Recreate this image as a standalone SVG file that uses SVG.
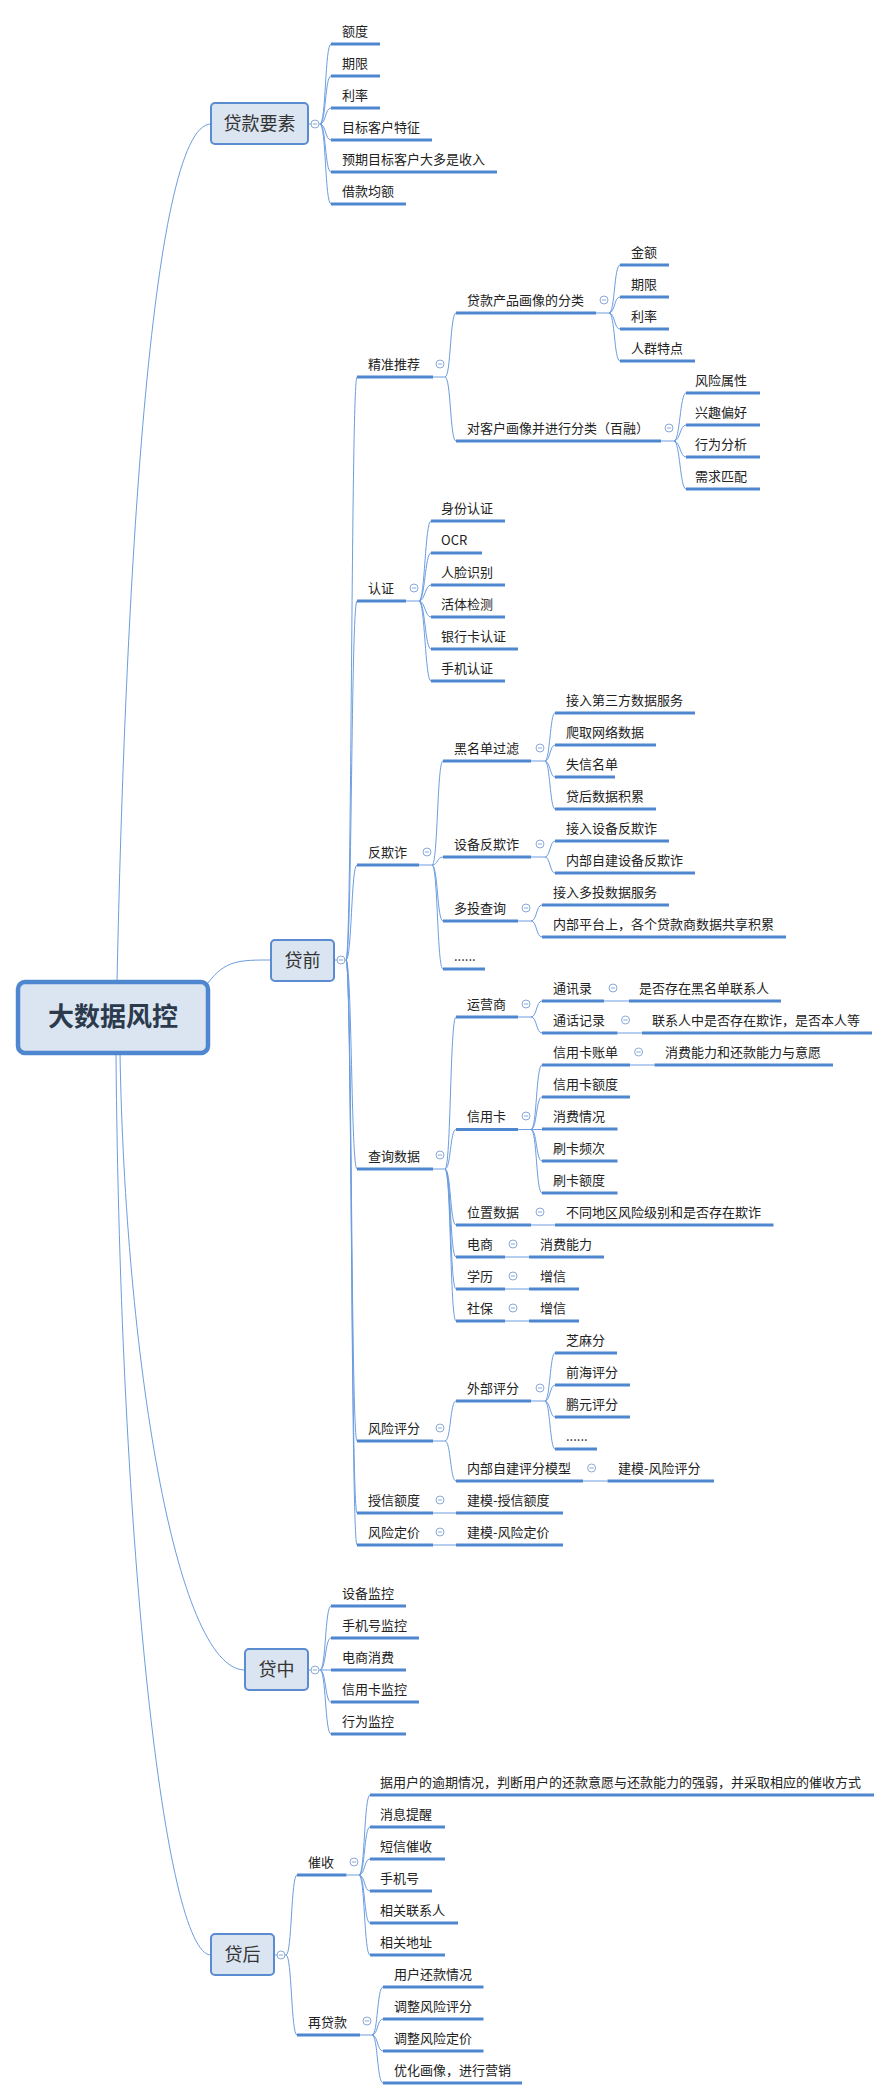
<svg xmlns="http://www.w3.org/2000/svg" width="892" height="2100" viewBox="0 0 892 2100">
<style>
.t{font-family:"Noto Sans CJK SC","Liberation Sans",sans-serif;font-size:13px;fill:#222}
.bt{font-family:"Noto Sans CJK SC","Liberation Sans",sans-serif;font-size:18px;fill:#333;text-anchor:middle}
.rt{font-family:"Noto Sans CJK SC","Liberation Sans",sans-serif;font-size:26px;font-weight:bold;fill:#2b3a4d;text-anchor:middle}
.u{stroke:#4f86d0;stroke-width:3;fill:none}
.c path{stroke:#6c9de0;stroke-width:1;fill:none}
.b{fill:#dbe5f1;stroke:#5b8bd0;stroke-width:2}
.r{fill:#dbe5f1;stroke:#4f86d0;stroke-width:4.5}
</style>
<defs>
<g id="tg"><circle r="4" fill="#fff" stroke="#8aa9d6" stroke-width="1"/><line x1="-2.2" x2="2.2" stroke="#8aa9d6" stroke-width="1"/></g>
</defs>
<g class="c" id="connectors">
<path d="M117,982 C125,600 150,124 211,124"/>
<path d="M208,983 C225,960 240,960 271,960"/>
<path d="M120,1053 C125,1350 175,1670 245,1670"/>
<path d="M116,1053 C120,1550 165,1955 211,1955"/>
<!-- 贷款要素 -->
<path d="M308,124 H320 C326,124 325,44 331,44"/><path d="M320,124 C326,124 325,76 331,76"/><path d="M320,124 C326,124 325,108 331,108"/><path d="M320,124 C326,124 325,140 331,140"/><path d="M320,124 C326,124 325,172 331,172"/><path d="M320,124 C326,124 325,204 331,204"/>
<!-- 贷前 -->
<path d="M334,960 H346 C352,960 351,377 357,377"/><path d="M346,960 C352,960 351,601 357,601"/><path d="M346,960 C352,960 351,865 357,865"/><path d="M346,960 C352,960 351,1169 357,1169"/><path d="M346,960 C352,960 351,1441 357,1441"/><path d="M346,960 C352,960 351,1513 357,1513"/><path d="M346,960 C352,960 351,1545 357,1545"/>
<!-- 精准推荐 -->
<path d="M433,377 H445 C451,377 450,313 456,313"/><path d="M445,377 C451,377 450,441 456,441"/>
<path d="M596,313 H609 C615,313 614,265 620,265"/><path d="M609,313 C615,313 614,297 620,297"/><path d="M609,313 C615,313 614,329 620,329"/><path d="M609,313 C615,313 614,361 620,361"/>
<path d="M661,441 H674 C680,441 680,393 686,393"/><path d="M674,441 C680,441 680,425 686,425"/><path d="M674,441 C680,441 680,457 686,457"/><path d="M674,441 C680,441 680,489 686,489"/>
<!-- 认证 -->
<path d="M406,601 H419 C425,601 425,521 431,521"/><path d="M419,601 C425,601 425,553 431,553"/><path d="M419,601 C425,601 425,585 431,585"/><path d="M419,601 C425,601 425,617 431,617"/><path d="M419,601 C425,601 425,649 431,649"/><path d="M419,601 C425,601 425,681 431,681"/>
<!-- 反欺诈 -->
<path d="M419,865 H432 C438,865 437,761 443,761"/><path d="M432,865 C438,865 437,857 443,857"/><path d="M432,865 C438,865 437,921 443,921"/><path d="M432,865 C438,865 437,969 443,969"/>
<path d="M531,761 H545 C550,761 550,713 555,713"/><path d="M545,761 C550,761 550,745 555,745"/><path d="M545,761 C550,761 550,777 555,777"/><path d="M545,761 C550,761 550,809 555,809"/>
<path d="M531,857 H545 C550,857 550,841 555,841"/><path d="M545,857 C550,857 550,873 555,873"/>
<path d="M518,921 H531 C537,921 536,905 542,905"/><path d="M531,921 C537,921 536,937 542,937"/>
<!-- 查询数据 -->
<path d="M433,1169 H445 C451,1169 450,1017 456,1017"/><path d="M445,1169 C451,1169 450,1129.5 456,1129.5"/><path d="M445,1169 C451,1169 450,1225 456,1225"/><path d="M445,1169 C451,1169 450,1257 456,1257"/><path d="M445,1169 C451,1169 450,1289 456,1289"/><path d="M445,1169 C451,1169 450,1321 456,1321"/>
<path d="M518,1017 H531 C537,1017 536,1001 542,1001"/><path d="M531,1017 C537,1017 536,1033 542,1033"/>
<path d="M604,1001 H629"/><path d="M617.5,1033 H642"/>
<path d="M518,1129.5 H531 C537,1129.5 536,1065 542,1065"/><path d="M531,1129.5 C537,1129.5 536,1097 542,1097"/><path d="M531,1129.5 H542"/><path d="M531,1129.5 C537,1129.5 536,1161 542,1161"/><path d="M531,1129.5 C537,1129.5 536,1193 542,1193"/>
<path d="M630,1065 H654.5"/><path d="M531,1225 H555"/><path d="M505,1257 H529"/><path d="M505,1289 H529"/><path d="M505,1321 H529"/>
<!-- 风险评分 -->
<path d="M433,1441 H445 C451,1441 450,1401 456,1401"/><path d="M445,1441 C451,1441 450,1481 456,1481"/>
<path d="M531,1401 H545 C550,1401 550,1353 555,1353"/><path d="M545,1401 C550,1401 550,1385 555,1385"/><path d="M545,1401 C550,1401 550,1417 555,1417"/><path d="M545,1401 C550,1401 550,1449 555,1449"/>
<path d="M583,1481 H607.5"/><path d="M433,1513 H456"/><path d="M433,1545 H456"/>
<!-- 贷中 -->
<path d="M308,1670 H320 C326,1670 325,1606 331,1606"/><path d="M320,1670 C326,1670 325,1638 331,1638"/><path d="M320,1670 H331"/><path d="M320,1670 C326,1670 325,1702 331,1702"/><path d="M320,1670 C326,1670 325,1734 331,1734"/>
<!-- 贷后 -->
<path d="M274,1955 H286 C292,1955 291,1875 297,1875"/><path d="M286,1955 C292,1955 291,2035 297,2035"/>
<path d="M346.5,1875 H359 C365,1875 364,1795 370,1795"/><path d="M359,1875 C365,1875 364,1827 370,1827"/><path d="M359,1875 C365,1875 364,1859 370,1859"/><path d="M359,1875 C365,1875 364,1891 370,1891"/><path d="M359,1875 C365,1875 364,1923 370,1923"/><path d="M359,1875 C365,1875 364,1955 370,1955"/>
<path d="M360,2035 H372 C378,2035 377,1987 383,1987"/><path d="M372,2035 C378,2035 377,2019 383,2019"/><path d="M372,2035 C378,2035 377,2051 383,2051"/><path d="M372,2035 C378,2035 377,2083 383,2083"/>
</g>

<g id="root"><rect class="r" x="18" y="982" width="190" height="71" rx="7"/><text class="rt" x="113" y="1026">大数据风控</text></g>
<g id="n-daikuanyaosu"><rect class="b" x="211" y="103" width="97" height="41" rx="4"/><text class="bt" x="259.5" y="130">贷款要素</text><use href="#tg" x="315" y="124"/></g>
<g id="n-daiqian"><rect class="b" x="271" y="940" width="63" height="41" rx="4"/><text class="bt" x="302.5" y="967">贷前</text><use href="#tg" x="341" y="960"/></g>
<g id="n-daizhong"><rect class="b" x="245" y="1649" width="63" height="41" rx="4"/><text class="bt" x="276.5" y="1676">贷中</text><use href="#tg" x="315" y="1670"/></g>
<g id="n-daihou"><rect class="b" x="211" y="1934" width="63" height="41" rx="4"/><text class="bt" x="242.5" y="1961">贷后</text><use href="#tg" x="281" y="1955"/></g>

<g id="leaves-yaosu">
<g id="n1"><text class="t" x="342" y="36">额度</text><line class="u" x1="331" x2="380" y1="44" y2="44"/></g>
<g id="n2"><text class="t" x="342" y="68">期限</text><line class="u" x1="331" x2="380" y1="76" y2="76"/></g>
<g id="n3"><text class="t" x="342" y="100">利率</text><line class="u" x1="331" x2="380" y1="108" y2="108"/></g>
<g id="n4"><text class="t" x="342" y="132">目标客户特征</text><line class="u" x1="331" x2="432" y1="140" y2="140"/></g>
<g id="n5"><text class="t" x="342" y="164">预期目标客户大多是收入</text><line class="u" x1="331" x2="497" y1="172" y2="172"/></g>
<g id="n6"><text class="t" x="342" y="196">借款均额</text><line class="u" x1="331" x2="406" y1="204" y2="204"/></g>
</g>

<g id="n-jztj"><text class="t" x="368" y="369">精准推荐</text><line class="u" x1="357" x2="433" y1="377" y2="377"/><use href="#tg" x="440" y="364"/></g>
<g id="n-cpfl"><text class="t" x="467" y="305">贷款产品画像的分类</text><line class="u" x1="456" x2="596" y1="313" y2="313"/><use href="#tg" x="604" y="300"/></g>
<g id="n-jine"><text class="t" x="631" y="257">金额</text><line class="u" x1="620" x2="669" y1="265" y2="265"/></g>
<g id="n-qixian2"><text class="t" x="631" y="289">期限</text><line class="u" x1="620" x2="669" y1="297" y2="297"/></g>
<g id="n-lilv2"><text class="t" x="631" y="321">利率</text><line class="u" x1="620" x2="669" y1="329" y2="329"/></g>
<g id="n-rqtd"><text class="t" x="631" y="353">人群特点</text><line class="u" x1="620" x2="695" y1="361" y2="361"/></g>
<g id="n-khhx"><text class="t" x="467" y="433">对客户画像并进行分类（百融）</text><line class="u" x1="456" x2="661" y1="441" y2="441"/><use href="#tg" x="669" y="428"/></g>
<g id="n-fxsx"><text class="t" x="695" y="385">风险属性</text><line class="u" x1="686" x2="760" y1="393" y2="393"/></g>
<g id="n-xqph"><text class="t" x="695" y="417">兴趣偏好</text><line class="u" x1="686" x2="760" y1="425" y2="425"/></g>
<g id="n-xwfx"><text class="t" x="695" y="449">行为分析</text><line class="u" x1="686" x2="760" y1="457" y2="457"/></g>
<g id="n-xqpp"><text class="t" x="695" y="481">需求匹配</text><line class="u" x1="686" x2="760" y1="489" y2="489"/></g>

<g id="n-renzheng"><text class="t" x="368" y="593">认证</text><line class="u" x1="357" x2="406" y1="601" y2="601"/><use href="#tg" x="414" y="588"/></g>
<g id="n-sfrz"><text class="t" x="441" y="513">身份认证</text><line class="u" x1="431" x2="505" y1="521" y2="521"/></g>
<g id="n-ocr"><text class="t" x="441" y="545">OCR</text><line class="u" x1="431" x2="482" y1="553" y2="553"/></g>
<g id="n-rlsb"><text class="t" x="441" y="577">人脸识别</text><line class="u" x1="431" x2="505" y1="585" y2="585"/></g>
<g id="n-htjc"><text class="t" x="441" y="609">活体检测</text><line class="u" x1="431" x2="505" y1="617" y2="617"/></g>
<g id="n-yhk"><text class="t" x="441" y="641">银行卡认证</text><line class="u" x1="431" x2="518" y1="649" y2="649"/></g>
<g id="n-sjrz"><text class="t" x="441" y="673">手机认证</text><line class="u" x1="431" x2="505" y1="681" y2="681"/></g>

<g id="n-fqz"><text class="t" x="368" y="857">反欺诈</text><line class="u" x1="357" x2="419" y1="865" y2="865"/><use href="#tg" x="427" y="852"/></g>
<g id="n-hmd"><text class="t" x="454" y="753">黑名单过滤</text><line class="u" x1="443" x2="531" y1="761" y2="761"/><use href="#tg" x="540" y="748"/></g>
<g id="n-dsf"><text class="t" x="566" y="705">接入第三方数据服务</text><line class="u" x1="555" x2="695" y1="713" y2="713"/></g>
<g id="n-pqwl"><text class="t" x="566" y="737">爬取网络数据</text><line class="u" x1="555" x2="656" y1="745" y2="745"/></g>
<g id="n-sxmd"><text class="t" x="566" y="769">失信名单</text><line class="u" x1="555" x2="615" y1="777" y2="777"/></g>
<g id="n-dhsj"><text class="t" x="566" y="801">贷后数据积累</text><line class="u" x1="555" x2="656" y1="809" y2="809"/></g>
<g id="n-sbfqz"><text class="t" x="454" y="849">设备反欺诈</text><line class="u" x1="443" x2="531" y1="857" y2="857"/><use href="#tg" x="540" y="844"/></g>
<g id="n-jrsb"><text class="t" x="566" y="833">接入设备反欺诈</text><line class="u" x1="555" x2="669" y1="841" y2="841"/></g>
<g id="n-nbzj"><text class="t" x="566" y="865">内部自建设备反欺诈</text><line class="u" x1="555" x2="695" y1="873" y2="873"/></g>
<g id="n-dtcx"><text class="t" x="454" y="913">多投查询</text><line class="u" x1="443" x2="518" y1="921" y2="921"/><use href="#tg" x="526" y="908"/></g>
<g id="n-jrdt"><text class="t" x="553" y="897">接入多投数据服务</text><line class="u" x1="542" x2="669" y1="905" y2="905"/></g>
<g id="n-nbpt"><text class="t" x="553" y="929">内部平台上，各个贷款商数据共享积累</text><line class="u" x1="542" x2="786" y1="937" y2="937"/></g>
<g id="n-dots1"><text class="t" x="454" y="961">......</text><line class="u" x1="443" x2="485" y1="969" y2="969"/></g>

<g id="n-cxsj"><text class="t" x="368" y="1161">查询数据</text><line class="u" x1="357" x2="433" y1="1169" y2="1169"/><use href="#tg" x="440" y="1155"/></g>
<g id="n-yys"><text class="t" x="467" y="1009">运营商</text><line class="u" x1="456" x2="518" y1="1017" y2="1017"/><use href="#tg" x="526" y="1004"/></g>
<g id="n-txl"><text class="t" x="553" y="993">通讯录</text><line class="u" x1="542" x2="604" y1="1001" y2="1001"/><use href="#tg" x="613" y="988"/></g>
<g id="n-hmdlxr"><text class="t" x="639" y="993">是否存在黑名单联系人</text><line class="u" x1="629" x2="781" y1="1001" y2="1001"/></g>
<g id="n-thjl"><text class="t" x="553" y="1025">通话记录</text><line class="u" x1="542" x2="617.5" y1="1033" y2="1033"/><use href="#tg" x="625.5" y="1020"/></g>
<g id="n-lxrqz"><text class="t" x="652" y="1025">联系人中是否存在欺诈，是否本人等</text><line class="u" x1="642" x2="872" y1="1033" y2="1033"/></g>
<g id="n-xyk"><text class="t" x="467" y="1121">信用卡</text><line class="u" x1="456" x2="518" y1="1129.5" y2="1129.5"/><use href="#tg" x="526" y="1116"/></g>
<g id="n-xykzd"><text class="t" x="553" y="1057">信用卡账单</text><line class="u" x1="542" x2="630" y1="1065" y2="1065"/><use href="#tg" x="638.6" y="1052"/></g>
<g id="n-xfnl"><text class="t" x="665" y="1057">消费能力和还款能力与意愿</text><line class="u" x1="654.5" x2="833" y1="1065" y2="1065"/></g>
<g id="n-xyked"><text class="t" x="553" y="1089">信用卡额度</text><line class="u" x1="542" x2="630" y1="1097" y2="1097"/></g>
<g id="n-xfqk"><text class="t" x="553" y="1121">消费情况</text><line class="u" x1="542" x2="617.5" y1="1129" y2="1129"/></g>
<g id="n-skpc"><text class="t" x="553" y="1153">刷卡频次</text><line class="u" x1="542" x2="617.5" y1="1161" y2="1161"/></g>
<g id="n-sked"><text class="t" x="553" y="1185">刷卡额度</text><line class="u" x1="542" x2="617.5" y1="1193" y2="1193"/></g>
<g id="n-wzsj"><text class="t" x="467" y="1217">位置数据</text><line class="u" x1="456" x2="531" y1="1225" y2="1225"/><use href="#tg" x="540" y="1212"/></g>
<g id="n-btdq"><text class="t" x="566" y="1217">不同地区风险级别和是否存在欺诈</text><line class="u" x1="555" x2="773.5" y1="1225" y2="1225"/></g>
<g id="n-ds"><text class="t" x="467" y="1249">电商</text><line class="u" x1="456" x2="505" y1="1257" y2="1257"/><use href="#tg" x="513" y="1244"/></g>
<g id="n-xfnl2"><text class="t" x="540" y="1249">消费能力</text><line class="u" x1="529" x2="604" y1="1257" y2="1257"/></g>
<g id="n-xl"><text class="t" x="467" y="1281">学历</text><line class="u" x1="456" x2="505" y1="1289" y2="1289"/><use href="#tg" x="513" y="1276"/></g>
<g id="n-zx1"><text class="t" x="540" y="1281">增信</text><line class="u" x1="529" x2="579" y1="1289" y2="1289"/></g>
<g id="n-sb"><text class="t" x="467" y="1313">社保</text><line class="u" x1="456" x2="505" y1="1321" y2="1321"/><use href="#tg" x="513" y="1308"/></g>
<g id="n-zx2"><text class="t" x="540" y="1313">增信</text><line class="u" x1="529" x2="579" y1="1321" y2="1321"/></g>

<g id="n-fxpf"><text class="t" x="368" y="1433">风险评分</text><line class="u" x1="357" x2="433" y1="1441" y2="1441"/><use href="#tg" x="440" y="1428"/></g>
<g id="n-wbpf"><text class="t" x="467" y="1393">外部评分</text><line class="u" x1="456" x2="531" y1="1401" y2="1401"/><use href="#tg" x="540" y="1388"/></g>
<g id="n-zmf"><text class="t" x="566" y="1345">芝麻分</text><line class="u" x1="555" x2="617" y1="1353" y2="1353"/></g>
<g id="n-qhpf"><text class="t" x="566" y="1377">前海评分</text><line class="u" x1="555" x2="630" y1="1385" y2="1385"/></g>
<g id="n-pypf"><text class="t" x="566" y="1409">鹏元评分</text><line class="u" x1="555" x2="630" y1="1417" y2="1417"/></g>
<g id="n-dots2"><text class="t" x="566" y="1441">......</text><line class="u" x1="555" x2="597" y1="1449" y2="1449"/></g>
<g id="n-nbpfmx"><text class="t" x="467" y="1473">内部自建评分模型</text><line class="u" x1="456" x2="583" y1="1481" y2="1481"/><use href="#tg" x="591.6" y="1468"/></g>
<g id="n-jmfxpf"><text class="t" x="618" y="1473">建模-风险评分</text><line class="u" x1="607.5" x2="714" y1="1481" y2="1481"/></g>
<g id="n-sxed"><text class="t" x="368" y="1505">授信额度</text><line class="u" x1="357" x2="433" y1="1513" y2="1513"/><use href="#tg" x="440" y="1500"/></g>
<g id="n-jmsxed"><text class="t" x="467" y="1505">建模-授信额度</text><line class="u" x1="456" x2="563" y1="1513" y2="1513"/></g>
<g id="n-fxdj"><text class="t" x="368" y="1537">风险定价</text><line class="u" x1="357" x2="433" y1="1545" y2="1545"/><use href="#tg" x="440" y="1532"/></g>
<g id="n-jmfxdj"><text class="t" x="467" y="1537">建模-风险定价</text><line class="u" x1="456" x2="563" y1="1545" y2="1545"/></g>

<g id="n-sbjk"><text class="t" x="342" y="1598">设备监控</text><line class="u" x1="331" x2="406" y1="1606" y2="1606"/></g>
<g id="n-sjhjk"><text class="t" x="342" y="1630">手机号监控</text><line class="u" x1="331" x2="419" y1="1638" y2="1638"/></g>
<g id="n-dsxf"><text class="t" x="342" y="1662">电商消费</text><line class="u" x1="331" x2="406" y1="1670" y2="1670"/></g>
<g id="n-xykjk"><text class="t" x="342" y="1694">信用卡监控</text><line class="u" x1="331" x2="419" y1="1702" y2="1702"/></g>
<g id="n-xwjk"><text class="t" x="342" y="1726">行为监控</text><line class="u" x1="331" x2="406" y1="1734" y2="1734"/></g>

<g id="n-cs"><text class="t" x="308" y="1867">催收</text><line class="u" x1="297" x2="346.5" y1="1875" y2="1875"/><use href="#tg" x="354" y="1862"/></g>
<g id="n-cs1"><text class="t" x="380" y="1787">据用户的逾期情况，判断用户的还款意愿与还款能力的强弱，并采取相应的催收方式</text><line class="u" x1="370" x2="874" y1="1795" y2="1795"/></g>
<g id="n-xxtx"><text class="t" x="380" y="1819">消息提醒</text><line class="u" x1="370" x2="445" y1="1827" y2="1827"/></g>
<g id="n-dxcs"><text class="t" x="380" y="1851">短信催收</text><line class="u" x1="370" x2="445" y1="1859" y2="1859"/></g>
<g id="n-sjh"><text class="t" x="380" y="1883">手机号</text><line class="u" x1="370" x2="432" y1="1891" y2="1891"/></g>
<g id="n-xglxr"><text class="t" x="380" y="1915">相关联系人</text><line class="u" x1="370" x2="458" y1="1923" y2="1923"/></g>
<g id="n-xgdz"><text class="t" x="380" y="1947">相关地址</text><line class="u" x1="370" x2="445" y1="1955" y2="1955"/></g>
<g id="n-zdk"><text class="t" x="308" y="2027">再贷款</text><line class="u" x1="297" x2="360" y1="2035" y2="2035"/><use href="#tg" x="367" y="2021"/></g>
<g id="n-yhhk"><text class="t" x="394" y="1979">用户还款情况</text><line class="u" x1="383" x2="483.5" y1="1987" y2="1987"/></g>
<g id="n-tzpf"><text class="t" x="394" y="2011">调整风险评分</text><line class="u" x1="383" x2="483.5" y1="2019" y2="2019"/></g>
<g id="n-tzdj"><text class="t" x="394" y="2043">调整风险定价</text><line class="u" x1="383" x2="483.5" y1="2051" y2="2051"/></g>
<g id="n-yhhx"><text class="t" x="394" y="2075">优化画像，进行营销</text><line class="u" x1="383" x2="522" y1="2083" y2="2083"/></g>
</svg>
